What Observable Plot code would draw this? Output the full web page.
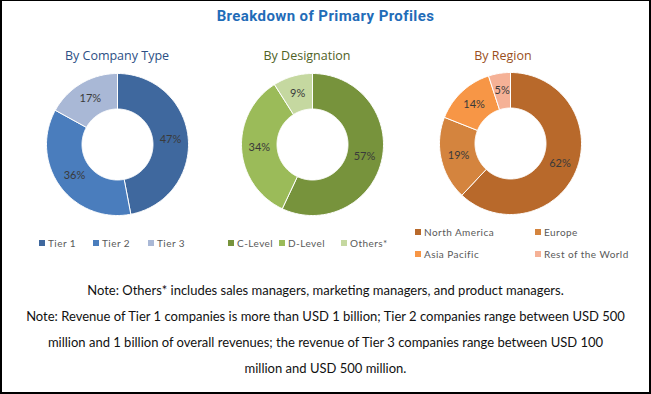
<!DOCTYPE html>
<html>
<head>
<meta charset="utf-8">
<script src="https://cdn.jsdelivr.net/npm/d3@7"></script>
<script src="https://cdn.jsdelivr.net/npm/@observablehq/plot@0.6"></script>
<style>
  html, body { margin: 0; padding: 0; background: #fff; }
  #frame { position: relative; width: 651px; height: 394px; box-sizing: border-box;
           border: 1px solid #000; border-left-width: 2px; border-right-width: 2px; border-bottom-width: 2px;
           font-family: Lato, "Open Sans", sans-serif; overflow: hidden; }
  .abs { position: absolute; }
  .title { left: 0; width: 647px; top: 6px; text-align: center; font-family: Roboto, sans-serif;
           font-weight: bold; font-size: 15px; letter-spacing: 0.4px; color: #1f6cb8; }
  .sub { top: 46px; width: 200px; text-align: center; font-family: "Open Sans", sans-serif; font-size: 12.5px; }
  .leg { font-size: 10px; color: #595959; letter-spacing: 0.45px; white-space: nowrap; line-height: 12px; }
  .leg i { display: inline-block; width: 6px; height: 6px; margin-right: 3px; vertical-align: 1px; }
  .notes { left: 0; width: 647px; top: 276px; text-align: center; font-size: 13px; line-height: 26px; color: #111; }
</style>
</head>
<body>
<div id="frame"></div>
<script>
// ---- data ----
const title = "Breakdown of Primary Profiles";
const companyTitle = "By Company Type";
const companyLabels = ["Tier 1", "Tier 2", "Tier 3"];
const companyValues = [47, 36, 17];

const designationTitle = "By Designation";
const designationLabels = ["C-Level", "D-Level", "Others*"];
const designationValues = [57, 34, 9];

const regionTitle = "By Region";
const regionLabels = ["North America", "Europe", "Asia Pacific", "Rest of the World"];
const regionValues = [62, 19, 14, 5];

const noteLines = [
  "Note: Others* includes sales managers, marketing managers, and product managers.",
  "Note: Revenue of Tier 1 companies is more than USD 1 billion; Tier 2 companies range between USD 500",
  "million and 1 billion of overall revenues; the revenue of Tier 3 companies range between USD 100",
  "million and USD 500 million."
];

// ---- styles ----
const companyColors = ["#3f689e", "#4a7dbd", "#a9b8d6"];
const designationColors = ["#77933c", "#9bbb59", "#c5d8a0"];
const regionColors = ["#b8692b", "#d4843e", "#f79646", "#f5b196"];

const frame = document.getElementById("frame");

function addDiv(cls, text, css) {
  const d = document.createElement("div");
  d.className = "abs " + cls;
  d.textContent = text;
  Object.assign(d.style, css || {});
  frame.appendChild(d);
  return d;
}

addDiv("title", title);

function donut(labels, values, colors) {
  const arcs = d3.pie().sort(null).value(d => d)(values);
  const total = d3.sum(values);
  const rOut = 1, rIn = 0.5, rLab = 0.75;
  const pts = [];
  const labs = [];
  arcs.forEach((a, i) => {
    const key = labels[i];
    const n = Math.max(2, Math.ceil((a.endAngle - a.startAngle) / 0.02));
    const ring = [];
    for (let k = 0; k <= n; k++) {
      const t = a.startAngle + (a.endAngle - a.startAngle) * k / n;
      ring.push({key, x: rOut * Math.sin(t), y: rOut * Math.cos(t)});
    }
    for (let k = n; k >= 0; k--) {
      const t = a.startAngle + (a.endAngle - a.startAngle) * k / n;
      ring.push({key, x: rIn * Math.sin(t), y: rIn * Math.cos(t)});
    }
    ring.push({...ring[0]});
    pts.push(...ring);
    const m = (a.startAngle + a.endAngle) / 2;
    labs.push({x: rLab * Math.sin(m), y: rLab * Math.cos(m), text: Math.round(values[i] / total * 100) + "%"});
  });
  return Plot.plot({
    width: 144, height: 144, margin: 1,
    x: {domain: [-1, 1], axis: null},
    y: {domain: [-1, 1], axis: null},
    color: {domain: labels, range: colors},
    style: {background: "transparent", fontFamily: "Lato, sans-serif", overflow: "visible"},
    marks: [
      Plot.line(pts, {x: "x", y: "y", z: "key", fill: "key", stroke: "white", strokeWidth: 1, curve: "linear"}),
      Plot.text(labs, {x: "x", y: "y", text: "text", fill: "#3a3a3a", fontSize: 11})
    ]
  });
}

function place(el, left, top) {
  el.style.position = "absolute";
  el.style.left = left + "px";
  el.style.top = top + "px";
  frame.appendChild(el);
}

function legendItem(label, color, left, top) {
  const d = document.createElement("div");
  d.className = "abs leg";
  d.style.left = left + "px";
  d.style.top = top + "px";
  const sw = document.createElement("i");
  sw.style.background = color;
  d.appendChild(sw);
  d.appendChild(document.createTextNode(label));
  frame.appendChild(d);
}

// Panel 1
addDiv("sub", companyTitle, {left: "15px", color: "#2c4f85"});
place(donut(companyLabels, companyValues, companyColors), 43, 71);
const leg1X = [37, 91, 146];
companyLabels.forEach((l, i) => legendItem(l, companyColors[i], leg1X[i], 236));

// Panel 2
addDiv("sub", designationTitle, {left: "205px", color: "#4f6226"});
place(donut(designationLabels, designationValues, designationColors), 238, 71);
const leg2X = [226, 277, 339];
designationLabels.forEach((l, i) => legendItem(l, designationColors[i], leg2X[i], 236));

// Panel 3
addDiv("sub", regionTitle, {left: "401px", color: "#9a4f1c"});
place(donut(regionLabels, regionValues, regionColors), 436, 70);
const leg3X = [413, 533, 413, 533];
const leg3Y = [225, 225, 247, 247];
regionLabels.forEach((l, i) => legendItem(l, regionColors[i], leg3X[i], leg3Y[i]));

// Notes
const notes = addDiv("notes", "");
noteLines.forEach(line => {
  const p = document.createElement("div");
  p.textContent = line;
  notes.appendChild(p);
});
</script>
</body>
</html>
